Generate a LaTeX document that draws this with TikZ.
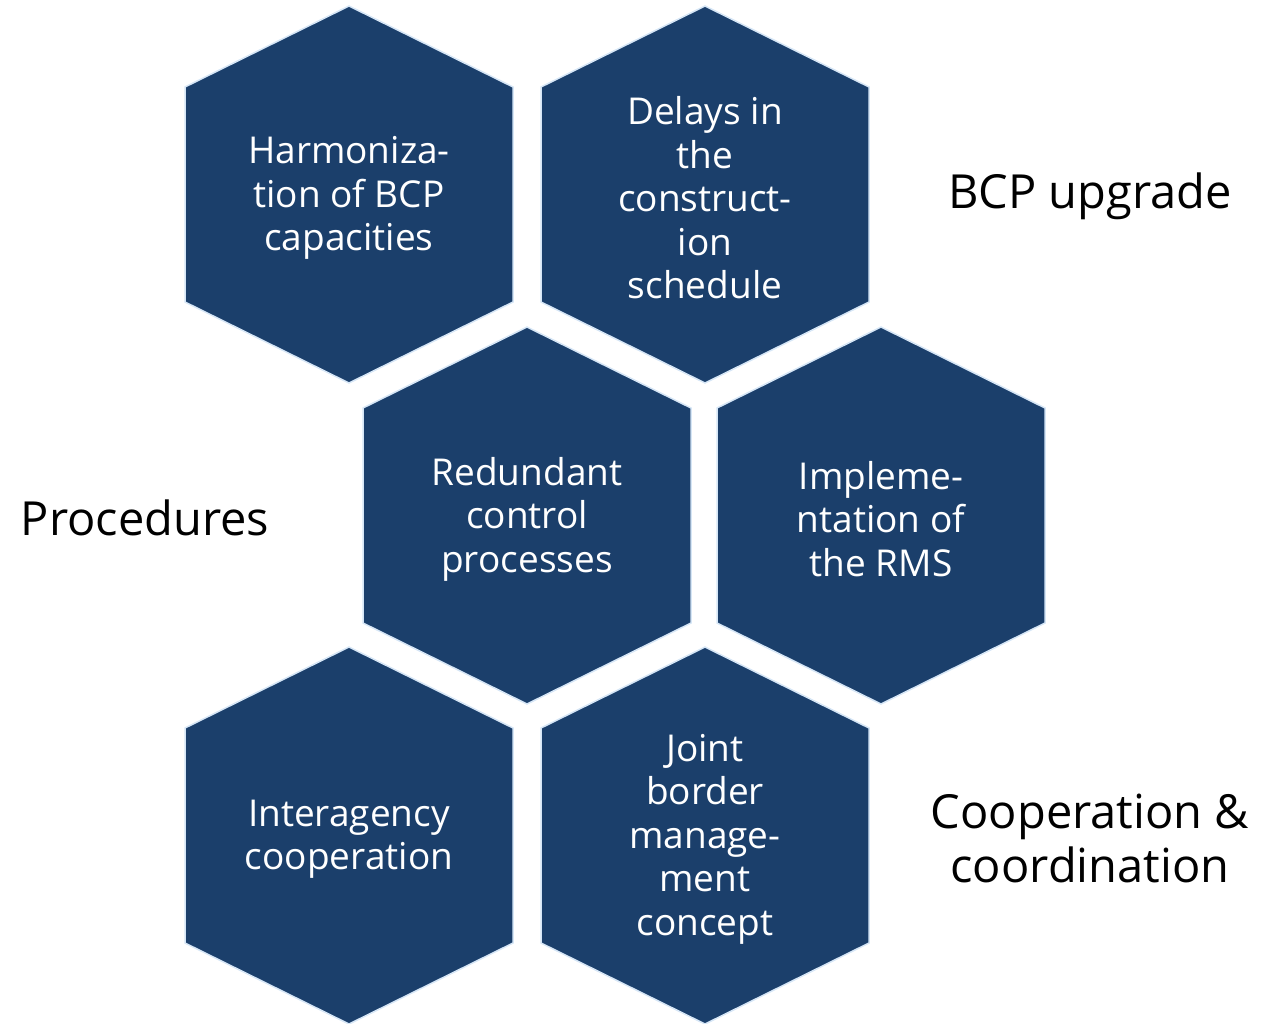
\documentclass[tikz,border=0pt]{standalone}
\usepackage{fontspec}
\setmainfont{Open Sans}
\usetikzlibrary{positioning}

\definecolor{hexblue}{RGB}{27,63,107}
\definecolor{hexrim}{RGB}{214,230,246}

% one cell: hexagon around (x,y) plus its text node
\newcommand\hexcell[4]{%
  \path[cell] (#2,#3) ++(0,-188) -- ++(164,81) -- ++(0,215) -- ++(-164,81)
    -- ++(-164,-81) -- ++(0,-215) -- cycle;
  \node[celltext] (#1) at (#2,#3) {#4};
}

\begin{document}
\begin{tikzpicture}
[x=1pt,y=-1pt,
 cell/.style={draw=hexrim,line width=1.5pt,fill=hexblue},
 celltext/.style={text=white,align=center,yshift=-4pt,font=\fontsize{37}{43.5}\selectfont},
 group/.style={align=center,yshift=-3pt,font=\fontsize{47}{54}\selectfont}]
\useasboundingbox (0,0) rectangle (1273,1023);
\hexcell{harm}{349}{194}{Harmoniza-\\tion of BCP\\capacities}
\hexcell{delay}{705}{194}{Delays in\\the\\construct-\\ion\\schedule}
\hexcell{redund}{527}{515}{Redundant\\control\\processes}
\hexcell{rms}{881}{515}{Impleme-\\ntation of\\the RMS}
\hexcell{inter}{349}{835}{Interagency\\cooperation}
\hexcell{joint}{705}{835}{Joint\\border\\manage-\\ment\\concept}
\node[group] (upgrade) at (1090,193) {BCP upgrade};
\node[group] (proc) at (145,515) {Procedures};
\node[group] (coop) at (1090,835) {Cooperation \&\\coordination};
\end{tikzpicture}
\end{document}
